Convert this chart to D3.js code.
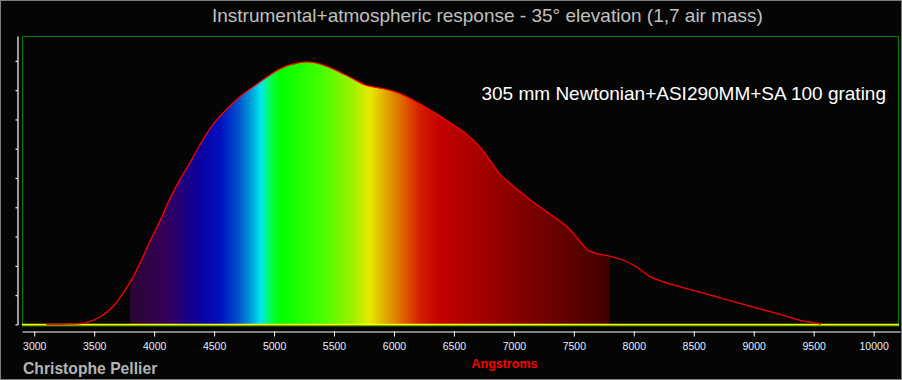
<!DOCTYPE html>
<html>
<head>
<meta charset="utf-8">
<script src="https://cdn.jsdelivr.net/npm/d3@7/dist/d3.min.js"></script>
<style>
  html, body { margin: 0; padding: 0; background: #050505; }
  svg { display: block; }
</style>
</head>
<body>
<div id="chart"></div>
<script>
// ---- Data ----
const wavelengths = [3100, 3300, 3420, 3550, 3660, 3800, 3880, 3960, 4050, 4130, 4210, 4300, 4380, 4490, 4630, 4710, 4880, 5050, 5210, 5300, 5380, 5490, 5630, 5770, 5910, 6050, 6190, 6330, 6460, 6600, 6740, 6880, 7020, 7160, 7300, 7440, 7580, 7630, 7710, 7800, 7910, 8020, 8130, 8240, 8410, 8690, 8960, 9240, 9380, 9520, 9560];
const response    = [0, 0.001, 0.004, 0.026, 0.062, 0.145, 0.207, 0.280, 0.355, 0.428, 0.491, 0.553, 0.612, 0.682, 0.745, 0.776, 0.827, 0.873, 0.894, 0.896, 0.890, 0.873, 0.845, 0.816, 0.805, 0.788, 0.759, 0.725, 0.691, 0.652, 0.595, 0.515, 0.464, 0.418, 0.377, 0.335, 0.270, 0.251, 0.240, 0.233, 0.220, 0.197, 0.165, 0.146, 0.126, 0.094, 0.063, 0.032, 0.015, 0.004, 0];

const xTickValues = [3000, 3500, 4000, 4500, 5000, 5500, 6000, 6500, 7000, 7500, 8000, 8500, 9000, 9500, 10000];
const yTickValues = [0, 0.1, 0.2, 0.3, 0.4, 0.5, 0.6, 0.7, 0.8, 0.9];

const spectrumWl     = [3800, 4100, 4380, 4550, 4700, 4800, 4890, 4980, 5050, 5380, 5660, 5800, 5950, 6080, 6210, 6380, 6770, 7190, 7800];
const spectrumColors = ["#2a0630", "#34005a", "#0a00a0", "#0010c0", "#0050cc", "#0098d8", "#00e8f0", "#00ff40", "#00ff00", "#40ff00", "#a0f000", "#e6ea00", "#e0a000", "#e06000", "#d42000", "#c40000", "#a00000", "#780000", "#400000"];

const titleText  = "Instrumental+atmospheric response - 35\u00b0 elevation (1,7 air mass)";
const legendText = "305 mm Newtonian+ASI290MM+SA 100 grating";
const xLabel     = "Angstroms";
const credit     = "Christophe Pellier";

// ---- Layout ----
const W = 902, H = 380;
const FONT = "'Liberation Sans', Arial, sans-serif";

const svg = d3.select("#chart").append("svg")
  .attr("width", W).attr("height", H);

svg.append("rect").attr("x", 0.5).attr("y", 0.5).attr("width", W - 1).attr("height", H - 1)
  .attr("fill", "#050505").attr("stroke", "#808080").attr("stroke-width", 1);

const x = d3.scaleLinear().domain([2898, 10220]).range([22, 900]);
const y = d3.scaleLinear().domain([0, 0.985]).range([324.4, 36]);

// green frame
svg.append("rect").attr("x", 22.5).attr("y", 36.5).attr("width", 876).attr("height", 289.5)
  .attr("fill", "none").attr("stroke", "#008000").attr("stroke-width", 1);

// spectrum gradient
const defs = svg.append("defs");
const grad = defs.append("linearGradient").attr("id", "spec")
  .attr("gradientUnits", "userSpaceOnUse")
  .attr("x1", x(3800)).attr("x2", x(7800)).attr("y1", 0).attr("y2", 0);
spectrumWl.forEach((w, i) => {
  grad.append("stop").attr("offset", (w - 3800) / 4000).attr("stop-color", spectrumColors[i]);
});
defs.append("clipPath").attr("id", "specClip").append("rect")
  .attr("x", x(3800)).attr("y", 0).attr("width", x(7800) - x(3800)).attr("height", H);

const pts = wavelengths.map((w, i) => [w, response[i]]);
const curve = d3.curveCatmullRom.alpha(0.5);
const area = d3.area().x(d => x(d[0])).y0(y(0)).y1(d => y(d[1])).curve(curve);
const line = d3.line().x(d => x(d[0])).y(d => y(d[1])).curve(curve);

svg.append("path").attr("d", area(pts)).attr("fill", "url(#spec)").attr("clip-path", "url(#specClip)");

// yellow baseline
svg.append("line").attr("x1", 22).attr("x2", 899).attr("y1", 324.6).attr("y2", 324.6)
  .attr("stroke", "#ffff00").attr("stroke-width", 1.6);

svg.append("path").attr("d", line(pts)).attr("fill", "none")
  .attr("stroke", "#ff0000").attr("stroke-width", 1.3);

// y axis
const yAxis = svg.append("g").attr("transform", "translate(17.5,0)")
  .call(d3.axisLeft(y).tickValues(yTickValues).tickSize(2).tickSizeOuter(0).tickFormat(""));
yAxis.selectAll("path, line").attr("stroke", "#ffffff").attr("stroke-width", 1.2);

// x axis
const xAxis = svg.append("g").attr("transform", "translate(0,331.5)")
  .call(d3.axisBottom(x).tickValues(xTickValues).tickSize(5).tickSizeOuter(0).tickPadding(6.3).tickFormat(d => String(d)));
xAxis.selectAll("path, line").attr("stroke", "#ffffff").attr("stroke-width", 1);
xAxis.selectAll("text").attr("fill", "#e4f0ff").attr("font-family", FONT).attr("font-size", "10.5px");

// texts
svg.append("text").attr("x", 212).attr("y", 22).text(titleText)
  .attr("fill", "#c0c0c0").attr("font-family", FONT).attr("font-size", "19px");
svg.append("text").attr("x", 886).attr("y", 100).attr("text-anchor", "end").text(legendText)
  .attr("fill", "#ffffff").attr("font-family", FONT).attr("font-size", "19px");
svg.append("text").attr("x", 504.5).attr("y", 368).attr("text-anchor", "middle").text(xLabel)
  .attr("fill", "#ff0000").attr("font-family", FONT).attr("font-weight", "bold").attr("font-size", "12.5px");
svg.append("text").attr("x", 23).attr("y", 374).text(credit)
  .attr("fill", "#b4b4b4").attr("font-family", FONT).attr("font-weight", "bold").attr("font-size", "15.7px");
</script>
</body>
</html>
